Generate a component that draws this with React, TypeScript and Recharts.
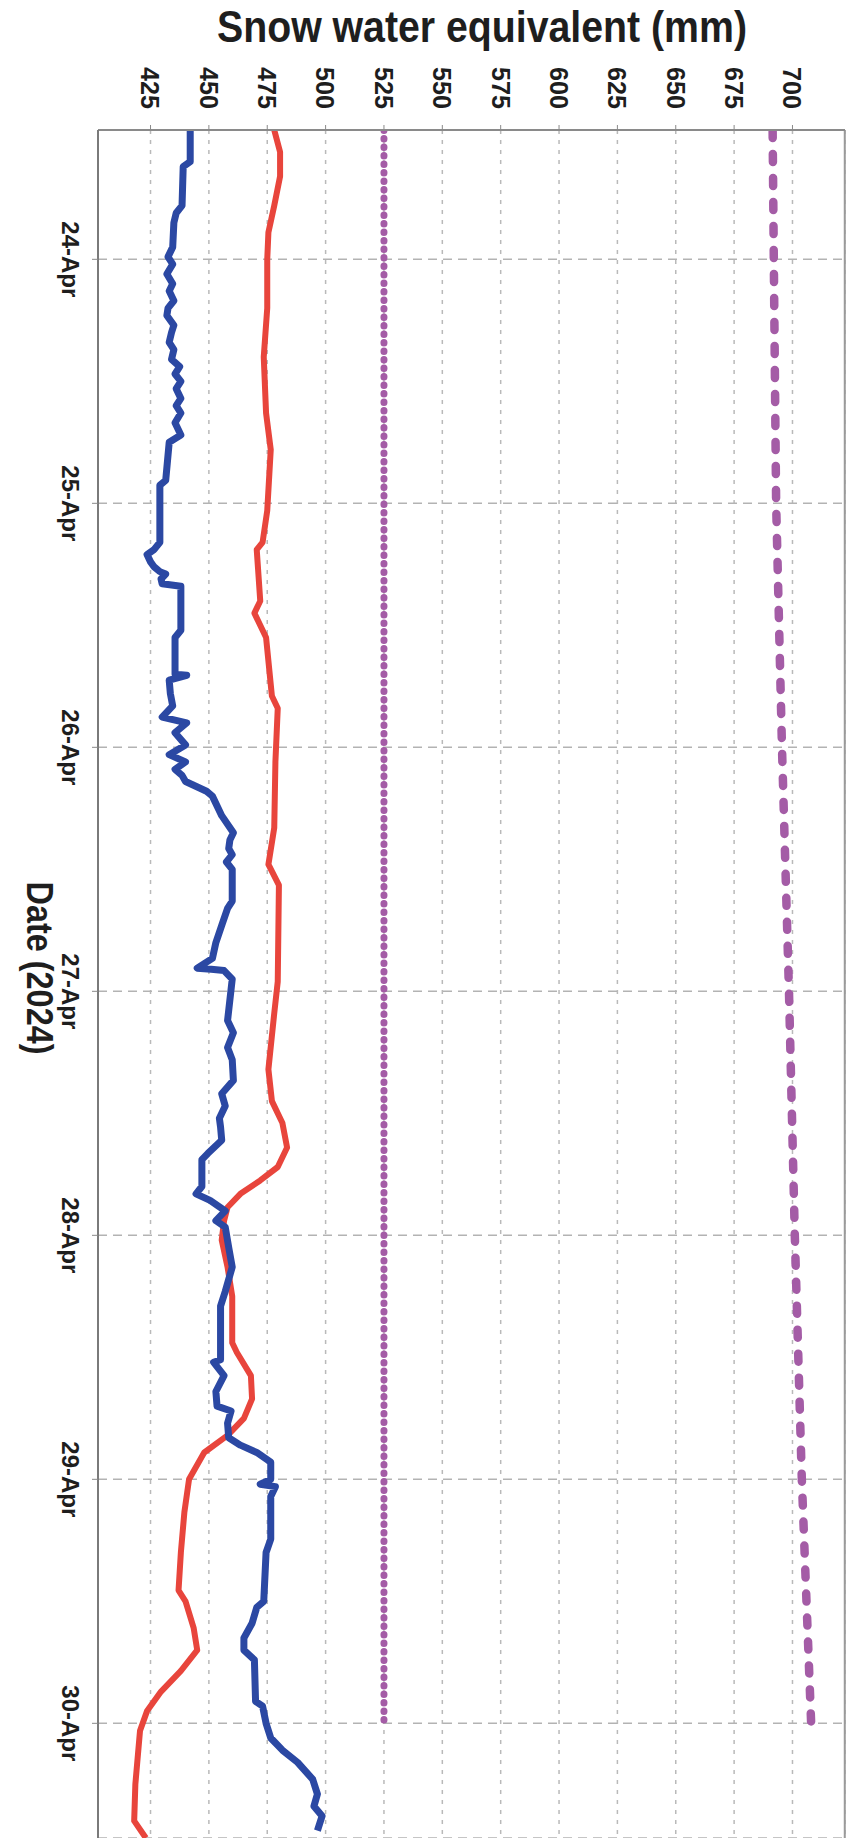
import React from "react";
import {
  LineChart,
  Line,
  XAxis,
  YAxis,
  CartesianGrid,
  ReferenceLine,
} from "recharts";

const WIDTH = 849;
const HEIGHT = 1838;
const FONT = "'Liberation Sans', Arial, sans-serif";

// snow water equivalent axis (mm)
const sweTicks = [425, 450, 475, 500, 525, 550, 575, 600, 625, 650, 675, 700];
const sweDomain = [402.5, 722.5];

// date axis, day of April 2024
const dayTicks = [24, 25, 26, 27, 28, 29, 30];
const dayLabels = ["24-Apr", "25-Apr", "26-Apr", "27-Apr", "28-Apr", "29-Apr", "30-Apr"];
const dayDomain = [23.47, 30.47];

// blue series
const blueT = [
  23.47, 23.6, 23.62, 23.78, 23.81, 23.85, 23.95, 23.99, 24.02, 24.06, 24.1, 24.13, 24.17, 24.2,
  24.23, 24.27, 24.3, 24.34, 24.37, 24.41, 24.44, 24.47, 24.5, 24.53, 24.57, 24.6, 24.63, 24.67,
  24.72, 24.75, 24.906, 24.926, 25.16, 25.19, 25.21, 25.24, 25.26, 25.28, 25.29, 25.31, 25.33,
  25.34, 25.52, 25.55, 25.7, 25.705, 25.725, 25.78, 25.83, 25.876, 25.9, 25.94, 25.99, 26.03,
  26.06, 26.09, 26.115, 26.14, 26.18, 26.2, 26.28, 26.35, 26.38, 26.415, 26.44, 26.47, 26.5,
  26.63, 26.66, 26.73, 26.8, 26.865, 26.905, 26.91, 26.915, 26.95, 27.12, 27.17, 27.23, 27.28,
  27.365, 27.42, 27.47, 27.52, 27.556, 27.61, 27.665, 27.69, 27.8, 27.83, 27.857, 27.9, 27.94,
  27.966, 28.05, 28.13, 28.23, 28.29, 28.51, 28.52, 28.575, 28.64, 28.7, 28.72, 28.77, 28.83,
  28.86, 28.89, 28.93, 29.0, 29.02, 29.03, 29.07, 29.245, 29.3, 29.5, 29.525, 29.59, 29.65, 29.7,
  29.74, 29.91, 29.93, 30.0, 30.06, 30.11, 30.16, 30.23, 30.29, 30.34, 30.38, 30.44,
];
const blueV = [
  442, 442, 439, 438.5, 436, 435, 434.5, 432.5, 434.5, 432, 434.5, 433, 435, 432.5,
  432, 435, 434, 433, 435, 434, 437.5, 435.5, 438, 436, 438, 436, 438, 435.5,
  438, 433, 431.5, 429, 429, 426.5, 423.5, 425, 426.5, 429, 431.5, 429.5, 430,
  438, 438, 435.5, 435.5, 440.5, 433, 433.5, 434.5, 430, 440.5, 435.5, 440, 433,
  440, 435.5, 438.5, 440, 449, 451.5, 455.5, 460.5, 459, 458.5, 460, 457.5, 460,
  460, 458, 455.5, 453, 451.5, 445, 451, 456.5, 460, 458, 460.5, 458, 460,
  460.5, 455.5, 457, 454.5, 455, 455.5, 449.5, 447, 447, 444.5, 450.5, 457, 453,
  457, 458.5, 460, 457, 455, 455, 452, 456.5, 453, 453.5, 459.5, 458, 458.5,
  463.5, 470.5, 476.5, 476.5, 472, 478.5, 476.5, 476.5, 474.5, 473.5, 470.5, 468.5, 465, 465,
  469.5, 470, 473, 474.5, 476.5, 481.5, 488, 494.5, 496.5, 495, 498.5, 496.5,
];

// red series
const redT = [
  23.47, 23.56, 23.66, 23.78, 23.89, 24.0, 24.2, 24.4, 24.63, 24.78, 25.03, 25.16, 25.19, 25.4,
  25.45, 25.55, 25.79, 25.84, 26.06, 26.33, 26.48, 26.565, 26.96, 27.09, 27.32, 27.45, 27.54,
  27.64, 27.72, 27.775, 27.83, 27.885, 27.94, 28.02, 28.13, 28.25, 28.44, 28.48, 28.575, 28.67,
  28.75, 28.82, 28.89, 29.0, 29.135, 29.3, 29.455, 29.5, 29.61, 29.7, 29.785, 29.87, 29.95,
  30.03, 30.25, 30.4, 30.47,
];
const redV = [
  478, 480.5, 480.5, 478, 475.5, 475, 475, 473.5, 474.5, 476.5, 475, 473, 470.5, 472,
  469.5, 474.5, 477, 479.5, 478.5, 478, 475.5, 480, 479.5, 478, 475.5, 477, 481.5,
  483.5, 479.5, 472, 463.5, 458, 456.5, 455.5, 458, 460, 460, 462, 468, 468.5,
  465, 458, 448, 441.5, 439.5, 438, 437, 440, 443.5, 445, 438, 429.5, 423.5,
  420.5, 418.5, 418, 423,
];

// purple dotted series
const dottedT = [23.47, 30.0];
const dottedV = [525, 525];

// purple dashed series
const dashedT = [23.47, 24, 25, 26, 27, 28, 29, 30];
const dashedV = [691.5, 692, 693, 695.5, 698.5, 701, 704, 708];

const rows = (t: number[], v: number[]) => t.map((d, i) => ({ t: d, swe: v[i] }));

const SweTick = ({ x, payload }: any) => (
  <text
    transform={`translate(${x},109) rotate(90)`}
    textAnchor="end"
    dy="0.35em"
    fontSize={26}
    fontWeight="bold"
    fontFamily={FONT}
    fill="#1e1e1e"
    textLength={42}
    lengthAdjust="spacingAndGlyphs"
  >
    {payload.value}
  </text>
);

const DateTick = ({ y, payload }: any) => (
  <text
    transform={`translate(62,${y}) rotate(90)`}
    textAnchor="middle"
    fontSize={23}
    fontWeight="bold"
    fontFamily={FONT}
    fill="#1e1e1e"
    textLength={76}
    lengthAdjust="spacingAndGlyphs"
  >
    {dayLabels[dayTicks.indexOf(payload.value)]}
  </text>
);

export default function App() {
  return (
    <div style={{ position: "relative", width: WIDTH, height: HEIGHT, background: "#fff" }}>
      <style>{`body{margin:0}`}</style>
      <LineChart
        width={WIDTH}
        height={HEIGHT}
        layout="vertical"
        margin={{ top: 100, right: 4, bottom: 0, left: 68 }}
      >
        <CartesianGrid horizontal={false} stroke="#b9b9b9" strokeWidth={1.5} strokeDasharray="4 6" />
        <CartesianGrid vertical={false} stroke="#b3b3b3" strokeWidth={1.5} strokeDasharray="9 6" />
        <XAxis
          type="number"
          orientation="top"
          domain={sweDomain}
          ticks={sweTicks}
          allowDataOverflow
          height={30}
          tick={<SweTick />}
          tickSize={5}
          stroke="#8a8a8a"
          axisLine={{ stroke: "#8a8a8a", strokeWidth: 2 }}
        />
        <YAxis
          type="number"
          dataKey="t"
          domain={dayDomain}
          ticks={dayTicks}
          allowDataOverflow
          width={30}
          tick={<DateTick />}
          tickSize={6}
          stroke="#8a8a8a"
          axisLine={{ stroke: "#7a7a7a", strokeWidth: 2 }}
        />
        <ReferenceLine x={722.4} stroke="#9a9a9a" strokeWidth={2} />
        <Line
          data={rows(dottedT, dottedV)}
          dataKey="swe"
          type="linear"
          stroke="#a45ca6"
          strokeWidth={7}
          strokeDasharray="0.5 8"
          strokeLinecap="round"
          dot={false}
          isAnimationActive={false}
        />
        <Line
          data={rows(dashedT, dashedV)}
          dataKey="swe"
          type="linear"
          stroke="#a45ca6"
          strokeWidth={8.5}
          strokeDasharray="8 16"
          strokeLinecap="round"
          dot={false}
          isAnimationActive={false}
        />
        <Line
          data={rows(redT, redV)}
          dataKey="swe"
          type="linear"
          stroke="#e8453c"
          strokeWidth={6}
          strokeLinejoin="round"
          dot={false}
          isAnimationActive={false}
        />
        <Line
          data={rows(blueT, blueV)}
          dataKey="swe"
          type="linear"
          stroke="#2b48a3"
          strokeWidth={7}
          strokeLinejoin="round"
          dot={false}
          isAnimationActive={false}
        />
      </LineChart>
      <svg
        width={WIDTH}
        height={HEIGHT}
        style={{ position: "absolute", left: 0, top: 0, pointerEvents: "none" }}
      >
        <text
          x={482}
          y={42}
          textAnchor="middle"
          fontSize={44}
          fontWeight="bold"
          fontFamily={FONT}
          fill="#1e1e1e"
          textLength={530}
          lengthAdjust="spacingAndGlyphs"
        >
          Snow water equivalent (mm)
        </text>
        <text
          transform="translate(27,968) rotate(90)"
          textAnchor="middle"
          fontSize={36}
          fontWeight="bold"
          fontFamily={FONT}
          fill="#1e1e1e"
          textLength={173}
          lengthAdjust="spacingAndGlyphs"
        >
          Date (2024)
        </text>
      </svg>
    </div>
  );
}
